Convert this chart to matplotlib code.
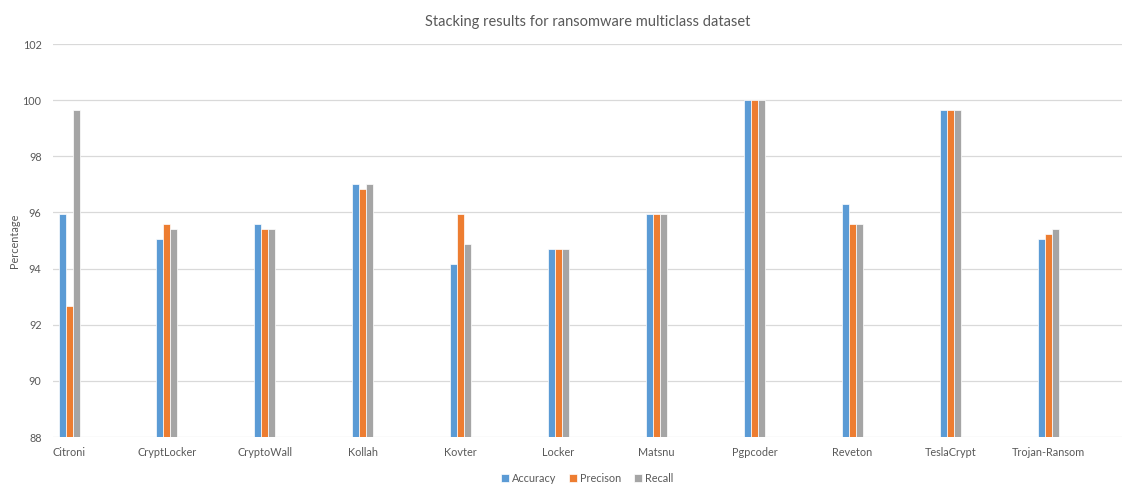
import numpy as np
import matplotlib
matplotlib.use("Agg")
import matplotlib.pyplot as plt

plt.rcParams['font.family'] = ['Lato', 'DejaVu Sans']

families = ['Citroni', 'CryptLocker', 'CryptoWall', 'Kollah', 'Kovter', 'Locker',
            'Matsnu', 'Pgpcoder', 'Reveton', 'TeslaCrypt', 'Trojan-Ransom']
accuracy = [95.94, 95.06, 95.59, 97.01, 94.17, 94.70, 95.95, 100.0, 96.29, 99.65, 95.07]
precision = [92.67, 95.59, 95.41, 96.83, 95.95, 94.70, 95.95, 100.0, 95.58, 99.65, 95.24]
recall = [99.64, 95.41, 95.41, 97.01, 94.88, 94.70, 95.95, 100.0, 95.58, 99.65, 95.41]

series = [('Accuracy', accuracy, '#5B9BD5'),
          ('Precison', precision, '#ED7D31'),
          ('Recall', recall, '#A5A5A5')]

fig = plt.figure(figsize=(11.22, 4.84), dpi=100)
ax = fig.add_axes([0.047, 0.097, 0.953, 0.812])

x = np.arange(len(families))
w = 0.0715
for i, (name, vals, col) in enumerate(series):
    ax.bar(x + (i - 1) * w, vals, width=w, color=col, label=name,
           edgecolor='white', linewidth=0.5, zorder=3)

ax.set_ylim(88, 102)
ax.set_yticks(np.arange(88, 103, 2))
ax.set_xlim(-0.167, 10.755)
ax.set_xticks(x)
ax.set_xticklabels(families)
ax.grid(axis='y', color='#d9d9d9', linewidth=0.9, zorder=0)
for s in ax.spines.values():
    s.set_visible(False)
ax.tick_params(length=0, labelsize=7.8, labelcolor='#595959')
ax.tick_params(axis='x', pad=7)
ax.tick_params(axis='y', pad=8)
ax.set_ylabel('Percentage', fontsize=7.8, color='#595959')
ax.yaxis.set_label_coords(-0.031, 0.5)
ax.set_title('Stacking results for ransomware multiclass dataset',
             fontsize=10.5, color='#595959', pad=13)

ax.legend(loc='upper center', bbox_to_anchor=(0.5, -0.066), ncol=3, frameon=False,
          fontsize=7.8, labelcolor='#595959', handlelength=0.7, handleheight=0.7,
          handletextpad=0.3, columnspacing=1.2)

fig.savefig('out.png', dpi=100)
